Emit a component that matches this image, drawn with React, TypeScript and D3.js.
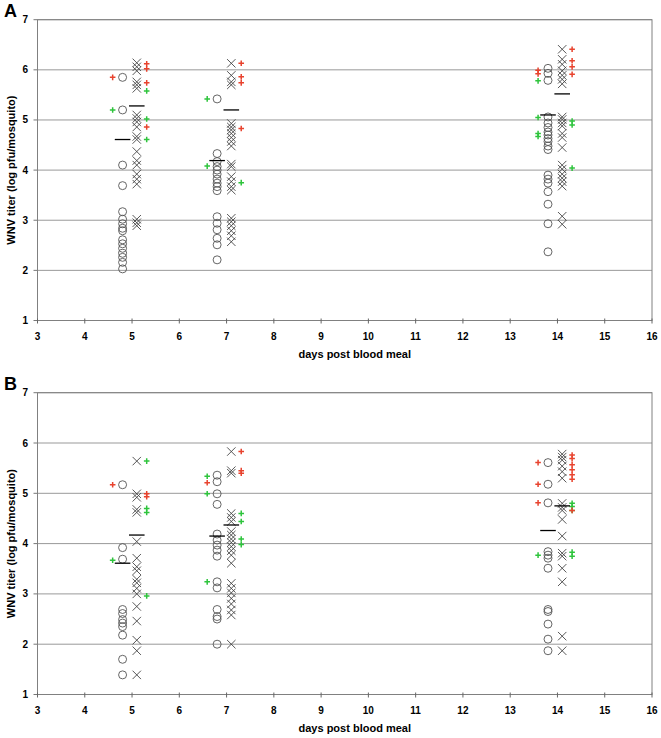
import { scaleLinear, range } from 'd3';

const days = [5, 7, 14];
const xTicks = range(3, 17);
const yTicks = [1, 2, 3, 4, 5, 6, 7];

// panel A, one inner array per day (5, 7, 14)
const aCircles = [
  [5.85, 5.2, 4.1, 3.69, 3.17, 3.02, 2.93, 2.84, 2.79, 2.61, 2.53, 2.44, 2.34, 2.26, 2.16, 2.03],
  [5.42, 4.33, 4.17, 4.07, 4.0, 3.92, 3.82, 3.74, 3.67, 3.59, 3.07, 2.94, 2.81, 2.64, 2.51, 2.21],
  [6.03, 5.93, 5.79, 5.06, 4.94, 4.85, 4.76, 4.7, 4.63, 4.57, 4.48, 4.41, 3.9, 3.82, 3.74, 3.57, 3.32, 2.93, 2.37],
];
const aCrosses = [
  [6.14, 6.06, 5.98, 5.76, 5.7, 5.63, 5.1, 5.03, 4.96, 4.86, 4.67, 4.61, 4.37, 4.19, 4.1, 3.92, 3.82, 3.72, 3.02, 2.95, 2.89],
  [6.13, 5.89, 5.76, 5.7, 4.93, 4.86, 4.8, 4.73, 4.65, 4.57, 4.48, 4.12, 4.07, 3.87, 3.77, 3.67, 3.6, 3.04, 2.97, 2.89, 2.79, 2.69, 2.57],
  [6.41, 6.21, 6.11, 5.98, 5.89, 5.81, 5.72, 5.06, 5.01, 4.94, 4.88, 4.73, 4.65, 4.45, 4.1, 4.02, 3.92, 3.84, 3.77, 3.68, 3.08, 2.92],
];
const aRedRight = [[6.12, 6.02, 5.74, 4.86], [6.13, 5.86, 5.74, 4.83], [6.41, 6.18, 6.06, 5.91]];
const aGreenRight = [[5.58, 5.02, 4.61], [3.75], [4.98, 4.9, 4.04]];
const aRedLeft = [[5.85], [], [5.99, 5.92]];
const aGreenLeft = [[5.2], [5.42, 4.08], [5.78, 5.05, 4.73, 4.67]];
const aMeanLeft = [4.61, 4.19, 5.1];
const aMeanRight = [5.28, 5.2, 5.52];

// panel B
const bCircles = [
  [5.17, 3.92, 3.69, 2.69, 2.61, 2.49, 2.42, 2.35, 2.18, 1.7, 1.39],
  [5.36, 5.23, 4.99, 4.78, 4.19, 4.07, 3.97, 3.87, 3.75, 3.24, 3.12, 2.69, 2.55, 2.5, 2.0],
  [5.61, 5.18, 4.81, 3.84, 3.77, 3.71, 3.51, 2.69, 2.65, 2.4, 2.1, 1.87],
];
const bCrosses = [
  [5.64, 4.99, 4.92, 4.68, 4.62, 4.04, 3.71, 3.54, 3.46, 3.29, 3.22, 3.11, 3.0, 2.75, 2.46, 2.08, 1.87, 1.39],
  [5.83, 5.45, 5.4, 4.6, 4.52, 4.44, 4.24, 4.17, 4.09, 4.02, 3.94, 3.86, 3.77, 3.61, 3.21, 3.11, 3.02, 2.91, 2.8, 2.68, 2.58, 2.0],
  [5.78, 5.72, 5.66, 5.54, 5.43, 5.3, 4.8, 4.72, 4.66, 4.48, 4.15, 3.81, 3.75, 3.51, 3.24, 2.16, 1.87],
];
const bRedRight = [[4.99, 4.93], [5.83, 5.45, 5.4], [5.76, 5.69, 5.57, 5.47, 5.37, 5.28, 4.66]];
const bGreenRight = [[5.64, 4.7, 4.62, 2.96], [4.6, 4.44, 4.09, 3.98], [4.8, 4.74, 4.66, 3.83, 3.75]];
const bRedLeft = [[5.17], [5.21], [5.61, 5.18, 4.81]];
const bGreenLeft = [[3.67], [5.34, 4.99, 3.24], [3.77]];
const bMeanLeft = [3.61, 4.15, 4.26];
const bMeanRight = [4.17, 4.37, 4.75];

const RED = '#e8432e';
const GREEN = '#2ec43c';
const FONT = '"Liberation Sans", Arial, sans-serif';

const x = scaleLinear().domain([3, 16]).range([37.5, 652]);

type PanelProps = {
  label: string;
  top: number;
  bottom: number;
  circles: number[][];
  crosses: number[][];
  redRight: number[][];
  greenRight: number[][];
  redLeft: number[][];
  greenLeft: number[][];
  meanLeft: number[];
  meanRight: number[];
};

function Plus({ cx, cy, color }: { cx: number; cy: number; color: string }) {
  const s = 2.8;
  return (
    <path d={`M${cx - s},${cy}H${cx + s}M${cx},${cy - s}V${cy + s}`} stroke={color} strokeWidth={1.5} />
  );
}

function Panel(p: PanelProps) {
  const y = scaleLinear().domain([1, 7]).range([p.bottom, p.top]);
  const [x0, x1] = x.range();
  const mid = (p.top + p.bottom) / 2;

  // column offsets (in days) around each measurement day
  const off = { circle: -0.2, cross: 0.1, right: 0.31, left: -0.41, half: 0.165 };

  return (
    <g>
      <text x={4} y={p.top - 3} fontFamily={FONT} fontWeight="bold" fontSize={18}>
        {p.label}
      </text>
      {yTicks.map((t) => (
        <g key={t}>
          <line x1={x0} x2={x1} y1={y(t)} y2={y(t)} stroke="#999" strokeWidth={1} />
          <line x1={x0 - 4} x2={x0} y1={y(t)} y2={y(t)} stroke="#777" />
          <text x={28} y={y(t) + 3.5} textAnchor="end" fontFamily={FONT} fontWeight="bold" fontSize={10}>
            {t}
          </text>
        </g>
      ))}
      <rect x={x0} y={p.top} width={x1 - x0} height={p.bottom - p.top} fill="none" stroke="#808080" strokeWidth={1} />
      {xTicks.map((t) => (
        <g key={t}>
          <line x1={x(t)} x2={x(t)} y1={p.bottom - 2} y2={p.bottom + 3} stroke="#666" />
          <text x={x(t)} y={p.bottom + 19} textAnchor="middle" fontFamily={FONT} fontWeight="bold" fontSize={10}>
            {t}
          </text>
        </g>
      ))}
      <text x={(x0 + x1) / 2 + 10} y={p.bottom + 37} textAnchor="middle" fontFamily={FONT} fontWeight="bold" fontSize={11}>
        days post blood meal
      </text>
      <text
        transform={`translate(15,${mid}) rotate(-90)`}
        textAnchor="middle"
        fontFamily={FONT}
        fontWeight="bold"
        fontSize={11}
      >
        WNV titer (log pfu/mosquito)
      </text>

      {days.map((d, i) => (
        <g key={d}>
          {p.circles[i].map((v, j) => (
            <circle key={`c${j}`} cx={x(d + off.circle)} cy={y(v)} r={4} fill="none" stroke="#555" strokeWidth={0.9} />
          ))}
          {p.crosses[i].map((v, j) => {
            const cx = x(d + off.cross);
            const cy = y(v);
            const s = 4.2;
            return (
              <path
                key={`x${j}`}
                d={`M${cx - s},${cy - s}L${cx + s},${cy + s}M${cx - s},${cy + s}L${cx + s},${cy - s}`}
                stroke="#444"
                strokeWidth={0.9}
              />
            );
          })}
          {p.greenRight[i].map((v, j) => (
            <Plus key={`gr${j}`} cx={x(d + off.right)} cy={y(v)} color={GREEN} />
          ))}
          {p.redRight[i].map((v, j) => (
            <Plus key={`rr${j}`} cx={x(d + off.right)} cy={y(v)} color={RED} />
          ))}
          {p.greenLeft[i].map((v, j) => (
            <Plus key={`gl${j}`} cx={x(d + off.left)} cy={y(v)} color={GREEN} />
          ))}
          {p.redLeft[i].map((v, j) => (
            <Plus key={`rl${j}`} cx={x(d + off.left)} cy={y(v)} color={RED} />
          ))}
          <line
            x1={x(d + off.circle - off.half)}
            x2={x(d + off.circle + off.half)}
            y1={y(p.meanLeft[i])}
            y2={y(p.meanLeft[i])}
            stroke="#000"
            strokeWidth={1.3}
          />
          <line
            x1={x(d + off.cross - off.half)}
            x2={x(d + off.cross + off.half)}
            y1={y(p.meanRight[i])}
            y2={y(p.meanRight[i])}
            stroke="#000"
            strokeWidth={1.3}
          />
        </g>
      ))}
    </g>
  );
}

export default function App() {
  return (
    <svg width={661} height={738} style={{ position: 'absolute', left: 0, top: 0, background: '#fff' }}>
      <Panel
        label="A"
        top={19.7}
        bottom={320.5}
        circles={aCircles}
        crosses={aCrosses}
        redRight={aRedRight}
        greenRight={aGreenRight}
        redLeft={aRedLeft}
        greenLeft={aGreenLeft}
        meanLeft={aMeanLeft}
        meanRight={aMeanRight}
      />
      <Panel
        label="B"
        top={392.7}
        bottom={694.5}
        circles={bCircles}
        crosses={bCrosses}
        redRight={bRedRight}
        greenRight={bGreenRight}
        redLeft={bRedLeft}
        greenLeft={bGreenLeft}
        meanLeft={bMeanLeft}
        meanRight={bMeanRight}
      />
    </svg>
  );
}
